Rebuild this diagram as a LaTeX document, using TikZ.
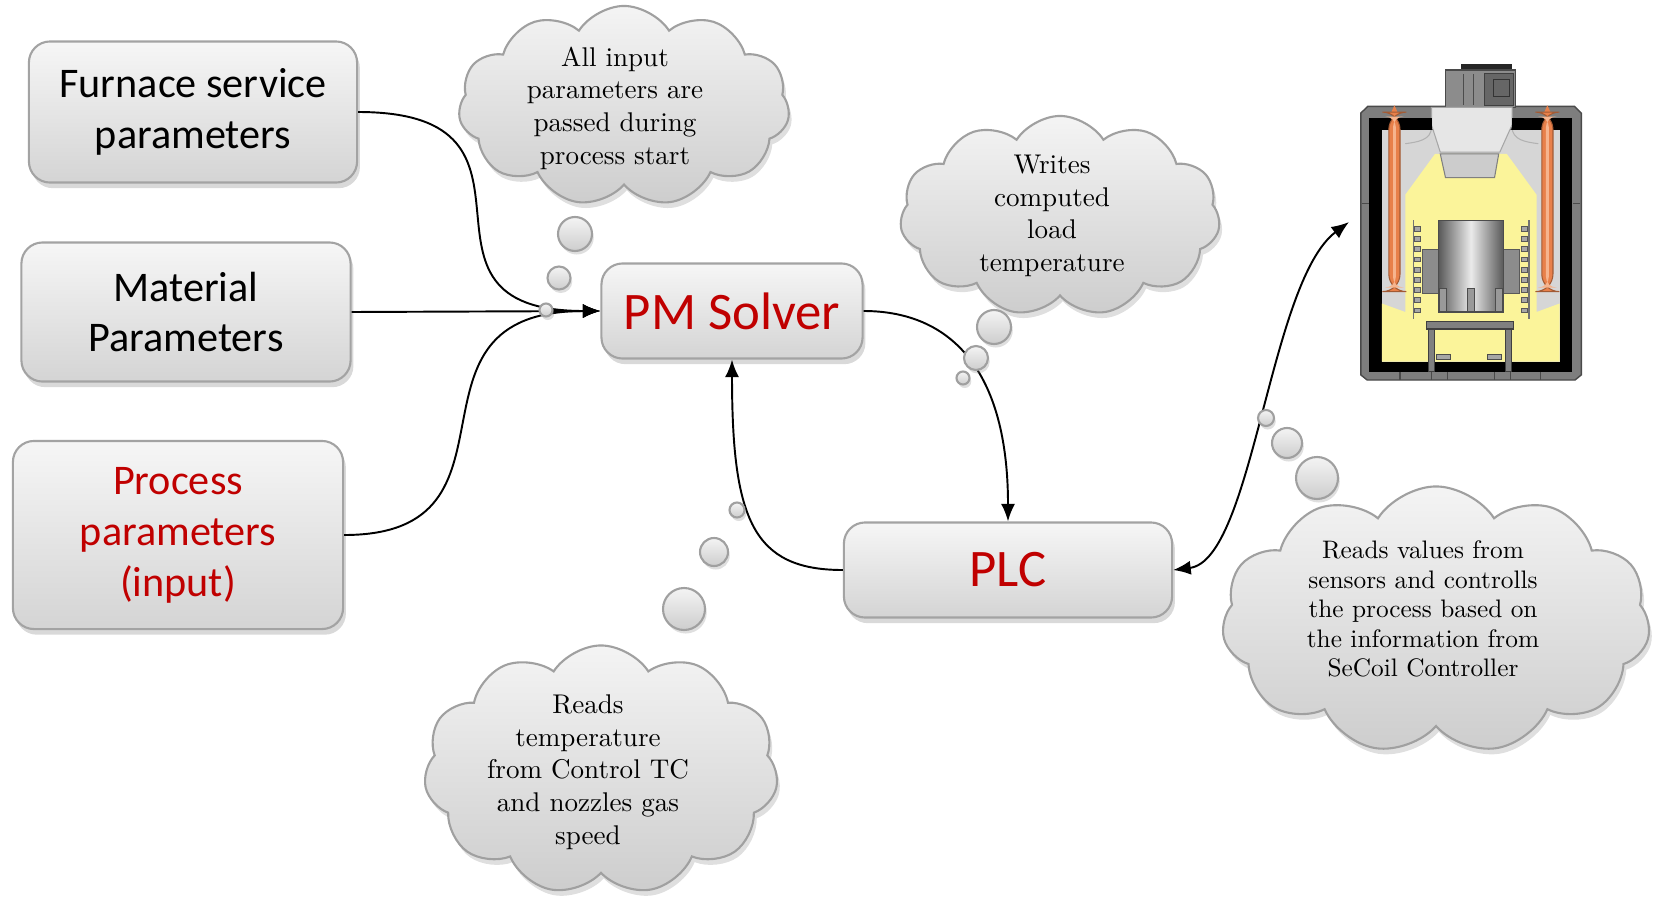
\documentclass[tikz,border=0pt]{standalone}
\usepackage{fontspec}
\newfontfamily\boxfont{Carlito}
\newfontfamily\cloudfont{lmroman10-regular.otf}
\usetikzlibrary{arrows.meta, positioning, shapes.symbols, shadows}

\definecolor{boxtop}{HTML}{F6F6F6}
\definecolor{boxbot}{HTML}{D4D4D4}
\definecolor{boxline}{HTML}{A3A3A3}
\definecolor{cloudtop}{HTML}{F4F4F4}
\definecolor{cloudbot}{HTML}{CDCDCD}
\definecolor{cloudline}{HTML}{A0A0A0}
\definecolor{solvred}{HTML}{C00000}
\definecolor{ovengray}{HTML}{7E7E7E}
\definecolor{ovenedge}{HTML}{4A4A4A}
\definecolor{chamber}{HTML}{D6D6D6}
\definecolor{plenum}{HTML}{E6E6E6}
\definecolor{insul}{HTML}{FBF49A}
\definecolor{heater}{HTML}{E8804A}
\definecolor{heaterhi}{HTML}{F6B48E}

\begin{document}
\begin{tikzpicture}[
  x=0.01cm, y=-0.01cm,
  box/.style={rectangle, rounded corners=6pt, draw=boxline, line width=0.6pt,
              top color=boxtop, bottom color=boxbot, align=center, inner sep=2pt,
              drop shadow={shadow xshift=0.8pt, shadow yshift=-1.6pt, opacity=0.3},
              font=\boxfont\fontsize{12}{14.5}\selectfont},
  bigbox/.style={box, text=solvred, font=\boxfont\fontsize{15}{18}\selectfont},
  thought/.style={cloud, cloud puffs=11, cloud puff arc=115, cloud ignores aspect,
                  draw=cloudline, line width=0.6pt, top color=cloudtop, bottom color=cloudbot,
                  drop shadow={shadow xshift=0.8pt, shadow yshift=-1.6pt, opacity=0.25}},
  cloudtext/.style={align=center, inner sep=0pt, font=\cloudfont\fontsize{7.7}{9.3}\selectfont},
  bubble/.style={draw=cloudline, line width=0.6pt, top color=cloudtop, bottom color=cloudbot,
                 drop shadow={shadow xshift=0.5pt, shadow yshift=-1pt, opacity=0.25}},
  conn/.style={line width=0.55pt, -{Latex[length=5pt,width=4pt]}},
  twoway/.style={line width=0.55pt, {Latex[length=5pt,width=4pt]}-{Latex[length=5pt,width=4pt]}},
]
\useasboundingbox (0,0) rectangle (1655,897);

% ---- input parameter boxes ----
\node[box, minimum width=3.28cm, minimum height=1.41cm] (furn) at (193,112) {Furnace service\\parameters};
\node[box, minimum width=3.29cm, minimum height=1.39cm] (matl) at (186,312) {Material\\Parameters};
\node[box, minimum width=3.30cm, minimum height=1.88cm, text=solvred] (proc) at (178,535) {Process\\parameters\\(input)};

% ---- solver and controller ----
\node[bigbox, minimum width=2.61cm, minimum height=0.95cm] (pm) at (732,311) {PM Solver};
\node[bigbox, minimum width=3.28cm, minimum height=0.95cm] (plc) at (1008,570) {PLC};
\coordinate (oven) at (1349,222);

% ---- connectors ----
\draw[conn] (furn.east) .. controls +(215,0) and +(-215,0) .. (pm.west);
\draw[conn] (matl.east) -- (pm.west);
\draw[conn] (proc.east) .. controls +(195,0) and +(-215,0) .. (pm.west);
\draw[conn] (pm.east) .. controls +(80,0) and +(0,-160) .. (plc.north);
\draw[conn] (plc.west) .. controls +(-90,0) and +(0,160) .. (pm.south);
\draw[twoway] (plc.east) .. controls +(80,-10) and +(-80,60) .. (oven);

% ---- thought clouds ----
\node[thought, minimum width=3.31cm, minimum height=2.0cm] (cStart) at (624,106) {};
\node[cloudtext] (tStart) at ([shift={(-9,2)}]cStart.center) {All input\\parameters are\\passed during\\process start};
\draw[bubble] (575,234) circle (17);
\draw[bubble] (559,278) circle (11.5);
\draw[bubble] (546,310) circle (6.5);

\node[thought, minimum width=3.2cm, minimum height=2.0cm] (cWrite) at (1060,216) {};
\node[cloudtext] (tWrite) at ([shift={(-8,0)}]cWrite.center) {Writes\\computed\\load\\temperature};
\draw[bubble] (994,327) circle (17);
\draw[bubble] (976,358) circle (12);
\draw[bubble] (963,378) circle (6.5);

\node[thought, minimum width=3.54cm, minimum height=2.49cm] (cRead) at (601,770) {};
\node[cloudtext] (tRead) at ([shift={(-13,2)}]cRead.center) {Reads\\temperature\\from Control TC\\and nozzles gas\\speed};
\draw[bubble] (684,609) circle (21);
\draw[bubble] (714,552) circle (14);
\draw[bubble] (737,510) circle (7.5);

\node[thought, minimum width=4.28cm, minimum height=2.67cm] (cPlc) at (1436,620) {};
\node[cloudtext, font=\cloudfont\fontsize{7.2}{8.4}\selectfont] (tPlc) at ([shift={(-13,-11)}]cPlc.center) {Reads values from\\sensors and controlls\\the process based on\\the information from\\SeCoil Controller};
\draw[bubble] (1317,478) circle (21);
\draw[bubble] (1287,443) circle (15);
\draw[bubble] (1266,418) circle (8);

% ---- furnace cut-away ----
\begin{scope}[shift={(1330,40)}, xscale=0.35, yscale=0.34]
  % housing and drive
  \filldraw[fill=ovengray, draw=ovenedge, line width=0.4pt] (88,215) -- (108,195) -- (698,195) -- (718,215)
    -- (718,985) -- (700,1000) -- (106,1000) -- (88,985) -- cycle;
  \foreach \sx in {200,290,335,470,515,600}
    \draw[ovenedge, line width=0.3pt] (\sx,975) -- (\sx,1000);
  \draw[ovenedge, line width=0.3pt] (92,480) -- (112,480) (694,480) -- (714,480);
  \filldraw[fill=black!45, draw=ovenedge, line width=0.4pt] (330,88) rectangle (530,198);
  \fill[black!85] (375,70) rectangle (520,84);
  \filldraw[fill=black!60, draw=black!75, line width=0.3pt] (440,98) rectangle (525,192);
  \draw[black!80, line width=0.3pt] (466,115) rectangle (512,165);
  \draw[black!70, line width=0.3pt] (380,100) -- (380,190) (410,100) -- (410,190);
  % insulation walls and chamber
  \fill[black] (112,228) rectangle (692,975);
  \fill[chamber] (148,265) rectangle (656,946);
  \fill[insul] (215,455) -- (300,335) -- (505,335) -- (590,455) -- (590,800) -- (656,775)
    -- (656,946) -- (148,946) -- (148,775) -- (215,800) -- cycle;
  \filldraw[fill=plenum, draw=black!35, line width=0.3pt] (290,198) -- (520,198) -- (520,250)
    -- (485,330) -- (315,330) -- (290,250) -- cycle;
  \draw[black!30, line width=0.3pt] (290,255) .. controls (290,295) and (250,300) .. (215,305);
  \draw[black!30, line width=0.3pt] (520,255) .. controls (520,295) and (560,300) .. (595,305);
  \filldraw[fill=black!20, draw=black!50, line width=0.3pt] (315,335) -- (482,335) -- (470,405) -- (330,405) -- cycle;
  \fill[black] (148,228) rectangle (290,265);
  \fill[black] (520,228) rectangle (656,265);
  % heater rods
  \foreach \hx in {168,605} {
    \fill[heater] (\hx+6,215) -- (\hx+16,192) -- (\hx+26,215) -- cycle;
    \filldraw[fill=heater, draw=heater!70!black, line width=0.3pt, rounded corners=5pt] (\hx,212) rectangle (\hx+32,740);
    \fill[heaterhi, rounded corners=3pt] (\hx+12,225) rectangle (\hx+20,728);
  }
  % coil rails
  \draw[black!55, line width=0.4pt] (238,530) -- (238,820) (568,530) -- (568,820);
  \foreach \cy in {548,578,...,788} {
    \filldraw[fill=black!35, draw=black!65, line width=0.2pt] (241,\cy) rectangle (258,\cy+14);
    \filldraw[fill=black!35, draw=black!65, line width=0.2pt] (548,\cy) rectangle (565,\cy+14);
  }
  % load and support
  \filldraw[fill=black!45, draw=black!65, line width=0.3pt] (265,615) rectangle (310,745);
  \filldraw[fill=black!45, draw=black!65, line width=0.3pt] (495,615) rectangle (540,745);
  \shade[left color=black!65, right color=black!65, middle color=black!8] (310,530) rectangle (495,800);
  \draw[black!70, line width=0.3pt] (310,530) rectangle (495,800);
  \foreach \lx in {313,392,473}
    \filldraw[fill=black!40, draw=black!70, line width=0.3pt] (\lx,730) rectangle (\lx+20,800);
  \filldraw[fill=black!50, draw=black!75, line width=0.3pt] (275,828) rectangle (525,850);
  \filldraw[fill=black!50, draw=black!75, line width=0.3pt] (282,850) rectangle (298,975);
  \filldraw[fill=black!50, draw=black!75, line width=0.3pt] (502,850) rectangle (518,975);
  \filldraw[fill=black!35, draw=black!70, line width=0.2pt] (305,925) rectangle (345,940);
  \filldraw[fill=black!35, draw=black!70, line width=0.2pt] (450,925) rectangle (490,940);
\end{scope}

\end{tikzpicture}
\end{document}
